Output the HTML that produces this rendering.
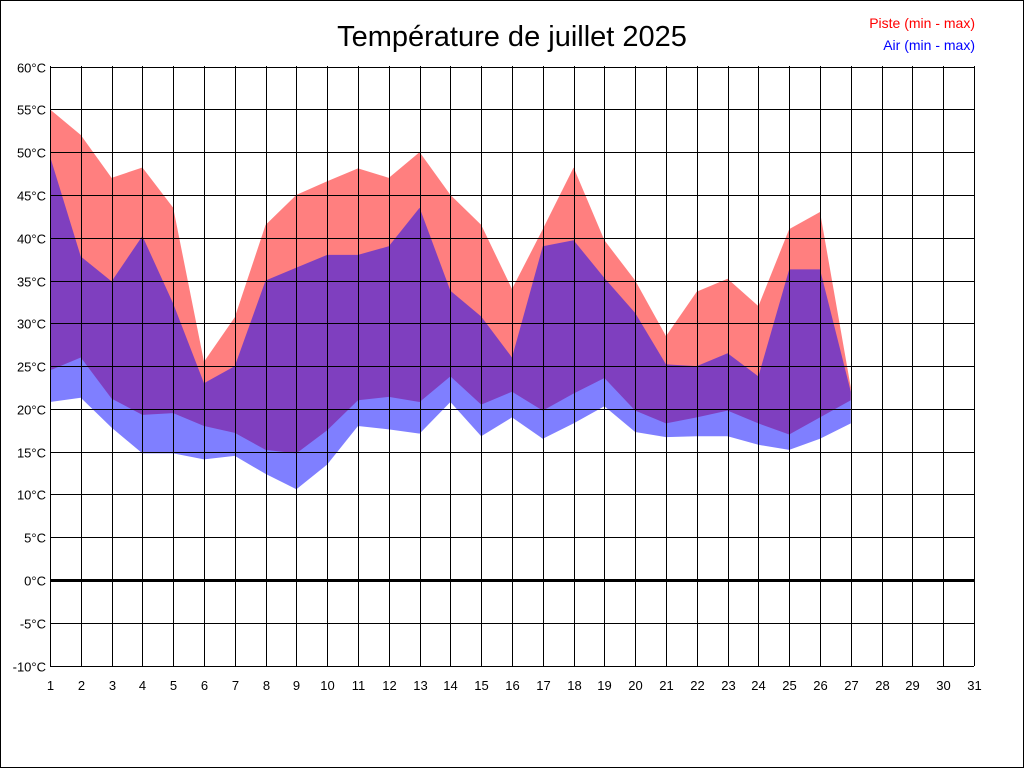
<!DOCTYPE html>
<html><head><meta charset="utf-8"><style>
html,body{margin:0;padding:0;background:#fff}
svg{display:block}
text{font-family:"Liberation Sans",Arial,sans-serif}
</style></head><body>
<svg id="s" width="1024" height="768" xmlns="http://www.w3.org/2000/svg">
<rect x="0.5" y="0.5" width="1023" height="767" fill="#fff" stroke="#000"/>
<text x="512" y="46" font-size="29" text-anchor="middle">Température de juillet 2025</text>
<text x="975" y="28" font-size="14" fill="#ff0000" text-anchor="end">Piste (min - max)</text>
<text x="975" y="50" font-size="14" fill="#0000ff" text-anchor="end">Air (min - max)</text>
<g id="areas"></g>
<g id="grid"></g>
</svg>
<script>
var pmax=[55,52,47,48.2,43.5,25.5,30.7,41.5,45,46.6,48.1,47,50,45,41.5,34,41,48.2,39.7,35,28.5,33.7,35.2,32,41,43,22.5];
var pmin=[24.5,26,21.2,19.3,19.5,18,17.2,15.2,14.8,17.5,21,21.4,20.8,23.8,20.5,22,19.8,21.8,23.6,19.8,18.3,19,19.8,18.3,17,19,21];
var amax=[49.5,37.8,34.9,40.2,32.3,23,25,35,36.5,38,38,39,43.5,33.8,30.8,26,39,39.7,35.3,31.2,25.2,25,26.5,23.8,36.3,36.3,22];
var amin=[20.8,21.3,17.8,14.8,14.8,14.1,14.5,12.4,10.6,13.5,18,17.6,17.1,20.8,16.8,19,16.5,18.3,20.3,17.3,16.7,16.8,16.8,15.8,15.2,16.5,18.3];
function X(d){return 50+(d-1)*30.8}
function Y(t){return 580-t*8.557}
function poly(top,bot,col){var p=[];for(var i=0;i<top.length;i++)p.push(X(i+1)+","+Y(top[i]));for(var i=bot.length-1;i>=0;i--)p.push(X(i+1)+","+Y(bot[i]));return '<polygon points="'+p.join(" ")+'" fill="'+col+'" fill-opacity="0.5"/>'}
document.getElementById("areas").innerHTML=poly(pmax,pmin,"#ff0000")+poly(amax,amin,"#0000ff");
var g="";
for(var t=-10;t<=60;t+=5){var y=Math.round(Y(t))+0.5;
g+='<line x1="50" x2="974" y1="'+y+'" y2="'+y+'" stroke="#000" stroke-width="'+(t==0?3:1)+'"/>';
g+='<text x="46" y="'+(y+5)+'" font-size="13" text-anchor="end">'+t+'°C</text>';}
for(var d=1;d<=31;d++){var x=Math.round(X(d))+0.5;
g+='<line x1="'+x+'" x2="'+x+'" y1="66" y2="666" stroke="#000"/>';
g+='<text x="'+x+'" y="690" font-size="13" text-anchor="middle">'+d+'</text>';}
document.getElementById("grid").innerHTML=g;
</script>
</body></html>
